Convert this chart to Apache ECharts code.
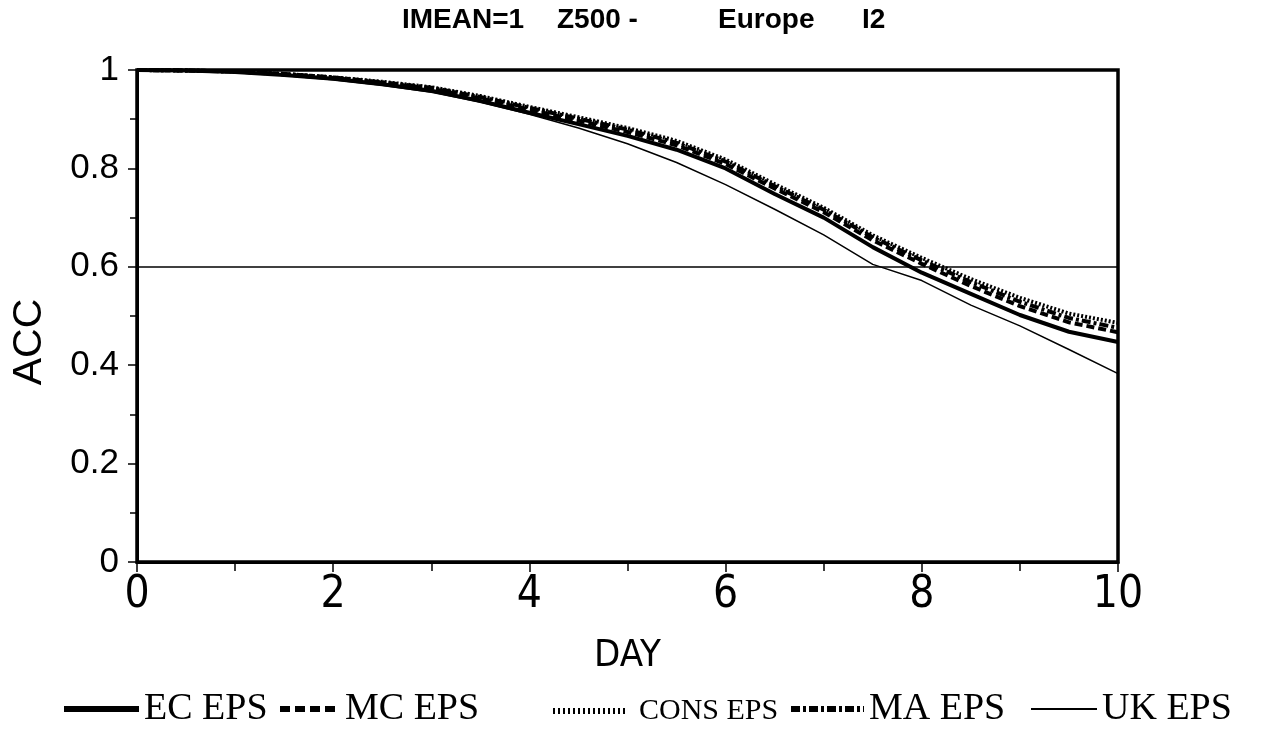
<!DOCTYPE html>
<html>
<head>
<meta charset="utf-8">
<script src="https://cdn.jsdelivr.net/npm/echarts@6/dist/echarts.min.js"></script>
<style>
  html, body { margin: 0; padding: 0; background: #fff; }
  #chart { width: 1273px; height: 741px; }
</style>
</head>
<body>
<div id="chart"></div>
<script>
// Forecast day (x axis)
const days = [0, 0.5, 1, 1.5, 2, 2.5, 3, 3.5, 4, 4.5, 5, 5.5, 6, 6.5, 7, 7.5, 8, 8.5, 9, 9.5, 10];

// Anomaly correlation coefficient for each ensemble system
const ecEps   = [1.000, 0.999, 0.996, 0.990, 0.982, 0.971, 0.958, 0.937, 0.913, 0.890, 0.866, 0.838, 0.800, 0.748, 0.700, 0.640, 0.588, 0.545, 0.502, 0.468, 0.447];
const mcEps   = [1.000, 0.999, 0.997, 0.991, 0.984, 0.974, 0.962, 0.942, 0.919, 0.897, 0.874, 0.847, 0.809, 0.759, 0.711, 0.654, 0.606, 0.561, 0.520, 0.487, 0.467];
const consEps = [1.000, 0.999, 0.997, 0.992, 0.985, 0.976, 0.965, 0.947, 0.925, 0.904, 0.882, 0.856, 0.818, 0.768, 0.720, 0.664, 0.618, 0.575, 0.537, 0.505, 0.486];
const maEps   = [1.000, 0.999, 0.997, 0.992, 0.985, 0.975, 0.964, 0.945, 0.923, 0.901, 0.879, 0.852, 0.814, 0.764, 0.716, 0.660, 0.613, 0.569, 0.529, 0.496, 0.476];
const ukEps   = [1.000, 0.999, 0.995, 0.989, 0.980, 0.969, 0.955, 0.935, 0.910, 0.882, 0.850, 0.812, 0.767, 0.717, 0.665, 0.605, 0.572, 0.522, 0.480, 0.432, 0.383];

const refLevel = 0.6;
const seriesNames = ['EC EPS', 'MC EPS', 'CONS EPS', 'MA EPS', 'UK EPS'];
const titleParts = ['IMEAN=1', 'Z500 -', 'Europe', 'I2'];

const pairs = vals => days.map((d, i) => [d, vals[i]]);

const chart = echarts.init(document.getElementById('chart'), null, { renderer: 'canvas' });

const serifFont = "'Liberation Serif', 'Times New Roman', serif";
const narrowFont = "'Liberation Sans Narrow', 'DejaVu Sans Condensed', 'Liberation Sans', Arial, sans-serif";
const sansFont = "'Liberation Sans', Arial, Helvetica, sans-serif";

// dash patterns of the plot lines
const dashMC = [8, 4];
const dashCONS = [2, 2];
const dashMA = [9, 3, 3, 3];

function lineSeries(name, vals, width, type) {
  return {
    name: name,
    type: 'line',
    data: pairs(vals),
    symbol: 'none',
    smooth: false,
    silent: true,
    animation: false,
    lineStyle: { color: '#000', width: width, type: type, cap: 'butt' },
    itemStyle: { color: '#000' }
  };
}

const series = [
  lineSeries(seriesNames[0], ecEps, 4, 'solid'),
  lineSeries(seriesNames[1], mcEps, 4, dashMC),
  lineSeries(seriesNames[2], consEps, 4, dashCONS),
  lineSeries(seriesNames[3], maEps, 4, dashMA),
  lineSeries(seriesNames[4], ukEps, 1.5, 'solid')
];

// horizontal reference line at ACC = 0.6
series[0].markLine = {
  silent: true,
  symbol: ['none', 'none'],
  label: { show: false },
  lineStyle: { color: '#000', width: 1.5, type: 'solid' },
  data: [{ yAxis: refLevel }],
  animation: false
};

// legend keys: heavier strokes than in the plot, one legend box per series
const legendKeys = {
  'EC EPS':   { left: 61,   keyWidth: 75, lineStyle: { width: 6, type: 'solid' }, fontSize: 38 },
  'MC EPS':   { left: 277,  keyWidth: 60, lineStyle: { width: 6, type: [10, 5] }, fontSize: 38 },
  'CONS EPS': { left: 550,  keyWidth: 74, lineStyle: { width: 6, type: [2, 3] }, fontSize: 30, gap: 7, top: 696 },
  'MA EPS':   { left: 788,  keyWidth: 73, lineStyle: { width: 6, type: [9, 3, 3, 3] }, fontSize: 38 },
  'UK EPS':   { left: 1030, keyWidth: 66, lineStyle: { width: 2, type: 'solid' }, fontSize: 38 }
};

const legends = seriesNames.map(n => {
  const k = legendKeys[n];
  return {
    left: k.left,
    top: k.top || 690,
    padding: 0,
    itemWidth: k.keyWidth,
    itemHeight: 14,
    itemStyle: { opacity: 0 },
    data: [{ name: n, lineStyle: k.lineStyle }],
    textStyle: {
      fontFamily: serifFont, fontSize: k.fontSize, color: '#000',
      padding: [0, 0, 0, k.gap || 0]
    },
    inactiveColor: '#000',
    selectedMode: false
  };
});

const titleStyle = { fontFamily: sansFont, fontWeight: 'bold', fontSize: 28, fill: '#000' };
const titleX = [402, 557, 718, 862];

const option = {
  backgroundColor: '#fff',
  animation: false,
  graphic: titleParts.map((t, i) => ({
    type: 'text', left: titleX[i], top: 6, silent: true,
    style: Object.assign({ text: t }, titleStyle)
  })).concat([{
    type: 'text',
    x: 30, y: 342,
    rotation: Math.PI / 2,
    silent: true,
    style: { text: 'ACC', fontFamily: sansFont, fontSize: 41, fill: '#000', align: 'center', verticalAlign: 'middle' }
  }]),
  grid: {
    left: 137, right: 155, top: 70, bottom: 179,
    show: true, borderColor: '#000', borderWidth: 3.5, backgroundColor: 'transparent'
  },
  legend: legends,
  xAxis: {
    type: 'value',
    min: 0, max: 10, interval: 2,
    name: 'DAY',
    nameLocation: 'middle',
    nameGap: 75,
    nameTextStyle: { fontFamily: narrowFont, fontSize: 38, color: '#000' },
    axisLine: { show: true, lineStyle: { color: '#000', width: 3 } },
    axisTick: { show: true, inside: false, length: 10, lineStyle: { color: '#000', width: 1.5 } },
    minorTick: { show: true, splitNumber: 2, length: 9, lineStyle: { color: '#000', width: 1.5 } },
    axisLabel: { fontFamily: narrowFont, fontSize: 44, color: '#000', margin: 12 },
    splitLine: { show: false }
  },
  yAxis: {
    type: 'value',
    min: 0, max: 1, interval: 0.2,
    axisLine: { show: true, lineStyle: { color: '#000', width: 3 } },
    axisTick: { show: true, inside: false, length: 9, lineStyle: { color: '#000', width: 1.5 } },
    minorTick: { show: true, splitNumber: 2, length: 7, lineStyle: { color: '#000', width: 1.5 } },
    axisLabel: {
      fontFamily: sansFont, fontSize: 35, color: '#000', margin: 18,
      formatter: v => String(Math.round(v * 10) / 10)
    },
    splitLine: { show: false }
  },
  series: series
};

chart.setOption(option);
</script>
</body>
</html>
